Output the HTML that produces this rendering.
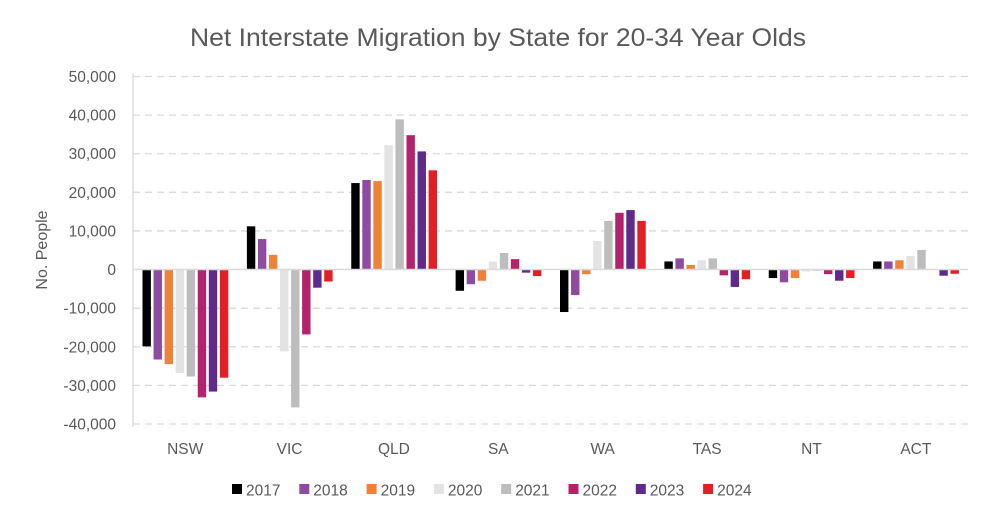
<!DOCTYPE html>
<html><head><meta charset="utf-8"><style>
body{margin:0;background:#fff;}
svg{display:block;font-family:"Liberation Sans",sans-serif;}
</style></head><body>
<svg id="c" width="995" height="520"></svg>
<script>
const categories=["NSW","VIC","QLD","SA","WA","TAS","NT","ACT"];
const years=["2017","2018","2019","2020","2021","2022","2023","2024"];
const colors=["#000000","#8e4ba0","#ef8237","#e3e3e3","#bdbdbd","#b3236a","#5f2a8a","#e31e24"];
const s2017=[-19900,11200,22400,-5500,-11000,2100,-2200,2100];
const s2018=[-23300,7900,23200,-3800,-6600,2900,-3300,2100];
const s2019=[-24500,3800,22900,-2900,-1200,1200,-2200,2400];
const s2020=[-26800,-21200,32200,2100,7400,2400,-500,3500];
const s2021=[-27700,-35700,38900,4300,12600,2900,-300,5100];
const s2022=[-33100,-16800,34800,2700,14700,-1500,-1200,0];
const s2023=[-31600,-4700,30600,-800,15400,-4500,-2900,-1600];
const s2024=[-28000,-3100,25700,-1700,12600,-2500,-2200,-1100];
const series=[s2017,s2018,s2019,s2020,s2021,s2022,s2023,s2024];
const yTicks=[50000,40000,30000,20000,10000,0,-10000,-20000,-30000,-40000];
const NS="http://www.w3.org/2000/svg";
const svg=document.getElementById('c');
const L=133,R=968,T=76.5,B=424;
const y=v=>T+(50000-v)/90000*(B-T);
const cw=(R-L)/categories.length;
const x=(ci,si)=>L+ci*cw+9.5+si*11.05;
function mk(t,a){const e=document.createElementNS(NS,t);for(const k in a)e.setAttribute(k,a[k]);svg.appendChild(e);return e;}
let t=mk('text',{x:190,y:46,'font-size':25,fill:'#595959',textLength:616,lengthAdjust:'spacingAndGlyphs'});
t.textContent="Net Interstate Migration by State for 20-34 Year Olds";


yTicks.forEach(v=>{
 if(v!==0){const g=mk('line',{x1:L,x2:R,y1:y(v),y2:y(v),stroke:'#d9d9d9','stroke-width':1.3,'stroke-dasharray':'7,5'});
 
 }
 const lb=mk('text',{x:116,y:y(v)+5.5,'text-anchor':'end','font-size':15.5,fill:'#595959'});
 lb.textContent=v.toLocaleString('en-US');
 
 
});
const ax=mk('line',{x1:L,x2:L,y1:T-3,y2:B+3,stroke:'#d9d9d9','stroke-width':1.3});


series.forEach((s,si)=>s.forEach((v,ci)=>{
 if(v===0)return;
 const r=mk('rect',{x:x(ci,si),y:Math.min(y(v),y(0)),width:8.4,height:Math.abs(y(v)-y(0)),fill:colors[si]});
 
 
}));
const z=mk('line',{x1:L,x2:R,y1:y(0),y2:y(0),stroke:'#d9d9d9','stroke-width':1.5});


categories.forEach((c,ci)=>{
 const lb=mk('text',{x:L+cw*(ci+0.5),y:454,'text-anchor':'middle','font-size':15.5,fill:'#595959'});
 lb.textContent=c;
 
 
});
const yt=mk('text',{x:0,y:0,'text-anchor':'middle','font-size':16,fill:'#595959',transform:'translate(47,250) rotate(-90)'});
yt.textContent="No. People";


years.forEach((yr,i)=>{
 const lx=232+i*67.3;
 const sq=mk('rect',{x:lx,y:484,width:10,height:10,fill:colors[i]});
 
 
 const lt=mk('text',{x:lx+14,y:495.5,'font-size':15.5,fill:'#595959'});
 lt.textContent=yr;
 
 
});
</script>
</body></html>
